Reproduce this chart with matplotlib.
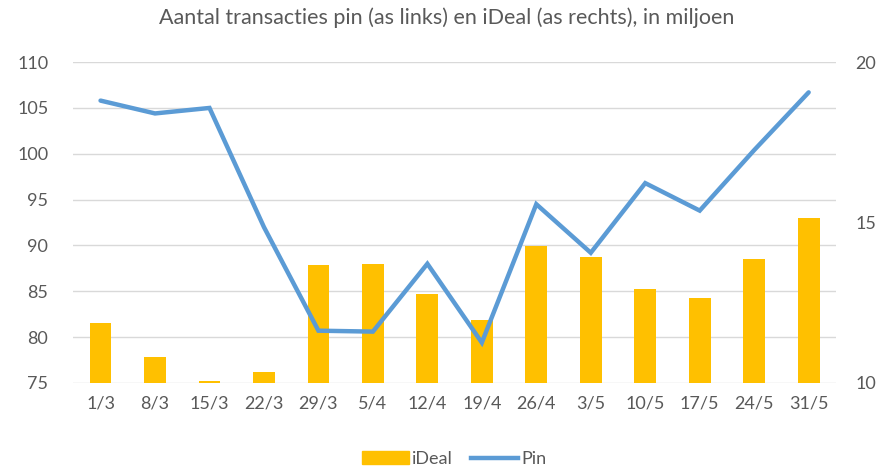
import matplotlib
matplotlib.use("Agg")
import matplotlib.pyplot as plt
from matplotlib.patches import Patch
from matplotlib.lines import Line2D

plt.rcParams['font.family'] = ['Lato', 'DejaVu Sans']

weeks = ["1/3", "8/3", "15/3", "22/3", "29/3", "5/4", "12/4", "19/4",
         "26/4", "3/5", "10/5", "17/5", "24/5", "31/5"]
pin = [105.8, 104.4, 105.0, 92.0, 80.7, 80.6, 88.0, 79.4,
       94.5, 89.2, 96.8, 93.8, 100.4, 106.7]
ideal = [11.87, 10.81, 10.06, 10.34, 13.68, 13.71, 12.77, 11.96,
         14.27, 13.93, 12.93, 12.65, 13.86, 15.14]
left_ticks = [75, 80, 85, 90, 95, 100, 105, 110]
right_ticks = [10, 15, 20]

txt = "#595959"
fig = plt.figure(figsize=(8.94, 4.67), dpi=100)
ax = fig.add_axes([0.082, 0.180, 0.853, 0.687])
x = list(range(len(weeks)))

ax.set_ylim(75, 110)
ax.set_yticks(left_ticks)
ax.set_xlim(-0.5, len(weeks) - 0.5)
ax.set_xticks(x)
ax.set_xticklabels(weeks)
ax.grid(axis='y', color='#D9D9D9', linewidth=1)
ax.set_axisbelow(True)
for s in ax.spines.values():
    s.set_visible(False)
ax.tick_params(length=0, colors=txt, labelsize=13)
ax.tick_params(axis='x', pad=9)
ax.tick_params(axis='y', pad=18)

axb = ax.twinx()
axb.bar(x, [v - 10 for v in ideal], bottom=10, width=0.4, color='#FFC000')
axb.set_ylim(10, 20)
axb.set_yticks(right_ticks)
for s in axb.spines.values():
    s.set_visible(False)
axb.tick_params(length=0, colors=txt, labelsize=13, pad=14)

axl = ax.twinx()
axl.plot(x, pin, color='#5B9BD5', linewidth=3.2, solid_capstyle='round', solid_joinstyle='miter')
axl.set_ylim(75, 110)
axl.set_yticks([])
for s in axl.spines.values():
    s.set_visible(False)

fig.suptitle("Aantal transacties pin (as links) en iDeal (as rechts), in miljoen",
             y=0.985, fontsize=15.5, color=txt)

handles = [Patch(color='#FFC000', label='iDeal'),
           Line2D([0], [0], color='#5B9BD5', linewidth=3.2, label='Pin')]
fig.legend(handles=handles, loc='lower center', bbox_to_anchor=(0.508, -0.035), ncol=2,
           frameon=False, fontsize=13, labelcolor=txt, handlelength=2.6,
           handletextpad=0.2, columnspacing=1.0)

fig.savefig("out.png", dpi=100)
